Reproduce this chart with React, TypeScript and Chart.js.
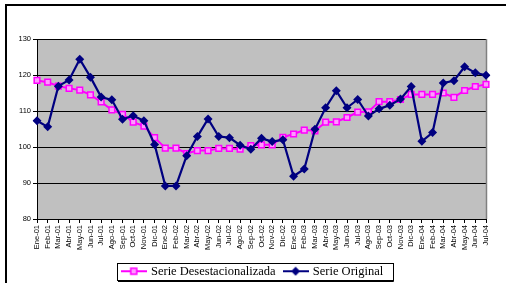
import React, { useEffect, useRef } from "react";
import { Chart, registerables } from "chart.js";
Chart.register(...registerables);

const labels = [
  "Ene-01","Feb-01","Mar-01","Abr-01","May-01","Jun-01","Jul-01","Ago-01","Sep-01","Oct-01","Nov-01","Dic-01",
  "Ene-02","Feb-02","Mar-02","Abr-02","May-02","Jun-02","Jul-02","Ago-02","Sep-02","Oct-02","Nov-02","Dic-02",
  "Ene-03","Feb-03","Mar-03","Abr-03","May-03","Jun-03","Jul-03","Ago-03","Sep-03","Oct-03","Nov-03","Dic-03",
  "Ene-04","Feb-04","Mar-04","Abr-04","May-04","Jun-04","Jul-04",
];

const serieOriginal = [
  107.3, 105.6, 116.9, 118.6, 124.4, 119.4, 113.9, 113.1, 107.7, 108.7, 107.3, 100.7,
  89.2, 89.2, 97.6, 102.9, 107.8, 102.9, 102.6, 100.5, 99.4, 102.4, 101.5, 102.0,
  91.9, 93.9, 104.9, 110.9, 115.6, 110.9, 113.2, 108.6, 110.6, 111.6, 113.3, 116.8,
  101.6, 104.0, 117.8, 118.4, 122.3, 120.6, 119.9,
];

const serieDesestacionalizada = [
  118.5, 118.0, 116.9, 116.3, 115.8, 114.5, 112.5, 110.3, 109.1, 106.9, 105.8, 102.6,
  99.7, 99.7, 98.2, 99.0, 99.0, 99.6, 99.6, 99.4, 100.4, 100.6, 100.6, 102.7,
  103.6, 104.7, 104.5, 106.9, 107.0, 108.2, 109.7, 109.8, 112.6, 112.6, 113.2, 114.6,
  114.6, 114.6, 115.0, 113.8, 115.7, 116.8, 117.4,
];

const yMin = 80;
const yMax = 130;
const yStep = 10;

const NAVY = "#000080";
const MAGENTA = "#FF00FF";

function makeLegendIcon(color: string, kind: "rect" | "diamond") {
  const c = document.createElement("canvas");
  c.width = 26;
  c.height = 10;
  const ctx = c.getContext("2d")!;
  ctx.strokeStyle = color;
  ctx.lineWidth = 2;
  ctx.beginPath();
  ctx.moveTo(0, 5);
  ctx.lineTo(26, 5);
  ctx.stroke();
  if (kind === "rect") {
    ctx.fillStyle = "#FF99FF";
    ctx.fillRect(10, 2, 6, 6);
    ctx.lineWidth = 1.5;
    ctx.strokeRect(10, 2, 6, 6);
  } else {
    ctx.fillStyle = color;
    ctx.beginPath();
    ctx.moveTo(13, 0.5);
    ctx.lineTo(17.5, 5);
    ctx.lineTo(13, 9.5);
    ctx.lineTo(8.5, 5);
    ctx.closePath();
    ctx.fill();
  }
  return c;
}

export default function App() {
  const ref = useRef<HTMLCanvasElement | null>(null);

  useEffect(() => {
    if (!ref.current) return;
    const iconPink = makeLegendIcon(MAGENTA, "rect");
    const iconNavy = makeLegendIcon(NAVY, "diamond");

    const plotBg = {
      id: "plotBg",
      beforeDraw(chart: any) {
        const { ctx, chartArea: a } = chart;
        ctx.save();
        ctx.fillStyle = "#C0C0C0";
        ctx.fillRect(a.left, a.top, a.right - a.left, a.bottom - a.top);
        ctx.restore();
      },
      beforeDatasetsDraw(chart: any) {
        const { ctx, chartArea: a } = chart;
        ctx.save();
        ctx.strokeStyle = "#808080";
        ctx.lineWidth = 1.5;
        ctx.beginPath();
        ctx.moveTo(a.right + 0.5, a.top);
        ctx.lineTo(a.right + 0.5, a.bottom);
        ctx.stroke();
        ctx.restore();
      },
    };

    const legendBox = {
      id: "legendBox",
      afterLayout(chart: any) {
        const lg = chart.legend;
        if (lg) {
          lg.left = 0;
          lg.right = 506;
        }
      },
      afterDraw(chart: any) {
        const lg = chart.legend;
        if (!lg || !lg.legendHitBoxes || !lg.legendHitBoxes.length) return;
        const hb = lg.legendHitBoxes;
        const l = Math.min(...hb.map((h: any) => h.left)) - 6;
        const r = Math.max(...hb.map((h: any) => h.left + h.width)) + 9;
        const t = hb[0].top - 2;
        const b = hb[0].top + hb[0].height + 2;
        const ctx = chart.ctx;
        ctx.save();
        ctx.strokeStyle = "#000";
        ctx.lineWidth = 1;
        ctx.strokeRect(Math.round(l) + 0.5, Math.round(t) + 0.5, Math.round(r - l), Math.round(b - t));
        ctx.beginPath();
        ctx.moveTo(Math.round(r) + 1.5, Math.round(t) + 1);
        ctx.lineTo(Math.round(r) + 1.5, Math.round(b) + 1.5);
        ctx.lineTo(Math.round(l) + 1, Math.round(b) + 1.5);
        ctx.stroke();
        ctx.restore();
      },
    };

    const chart = new Chart(ref.current, {
      type: "line",
      data: {
        labels,
        datasets: [
          {
            label: "Serie Original",
            data: serieOriginal,
            borderColor: NAVY,
            backgroundColor: NAVY,
            borderWidth: 2.2,
            pointStyle: "rectRot",
            pointRadius: 4.5,
            pointBorderWidth: 0,
            pointBackgroundColor: NAVY,
            tension: 0,
          },
          {
            label: "Serie Desestacionalizada",
            data: serieDesestacionalizada,
            borderColor: MAGENTA,
            backgroundColor: "#FF99FF",
            borderWidth: 2,
            pointStyle: "rect",
            pointRadius: 4,
            pointBorderWidth: 1.5,
            pointBackgroundColor: "#FF99FF",
            pointBorderColor: MAGENTA,
            tension: 0,
          },
        ],
      },
      options: {
        responsive: false,
        animation: false,
        devicePixelRatio: 1,
        layout: { padding: { top: 39, right: 20, left: 0, bottom: 0 } },
        plugins: {
          tooltip: { enabled: false },
          title: { display: false },
          legend: {
            display: true,
            position: "bottom",
            reverse: true,
            maxHeight: 27,
            labels: {
              usePointStyle: true,
              pointStyleWidth: 22,
              padding: 9,
              color: "#000",
              font: { family: "'Liberation Serif', 'Times New Roman', serif", size: 12.5 },
              generateLabels(chart: any) {
                const items = Chart.defaults.plugins.legend.labels.generateLabels(chart);
                return items.map((it: any) => ({
                  ...it,
                  pointStyle: it.datasetIndex === 0 ? iconNavy : iconPink,
                }));
              },
            },
          },
        },
        scales: {
          x: {
            type: "category",
            offset: false,
            afterFit(scale: any) {
              scale.height = 37;
            },
            grid: {
              display: true,
              drawOnChartArea: false,
              drawTicks: true,
              tickLength: 4,
              color: "#000",
            },
            border: { display: true, color: "#000", width: 1 },
            ticks: {
              autoSkip: false,
              maxRotation: 90,
              minRotation: 90,
              padding: 2,
              color: "#000",
              font: { family: "'Liberation Sans', Arial, sans-serif", size: 7.5 },
            },
          },
          y: {
            min: yMin,
            max: yMax,
            afterFit(scale: any) {
              scale.width = 37;
            },
            grid: {
              display: true,
              color: "#000",
              lineWidth: 1,
              tickLength: 4,
            },
            border: { display: true, color: "#000", width: 1 },
            ticks: {
              stepSize: yStep,
              padding: 2,
              color: "#000",
              font: { family: "'Liberation Sans', Arial, sans-serif", size: 7.5 },
            },
          },
        },
      },
      plugins: [plotBg, legendBox],
    });
    return () => chart.destroy();
  }, []);

  return (
    <div
      style={{
        position: "absolute",
        left: 0,
        top: 0,
        width: 506,
        height: 283,
        overflow: "hidden",
        background: "#fff",
      }}
    >
      <canvas ref={ref} width={506} height={283} style={{ position: "absolute", left: 0, top: 0, width: 506, height: 283 }} />
      <div
        style={{
          position: "absolute",
          left: 5,
          top: 4,
          width: 700,
          height: 500,
          borderTop: "2px solid #000",
          borderLeft: "2px solid #000",
          pointerEvents: "none",
        }}
      />
    </div>
  );
}
